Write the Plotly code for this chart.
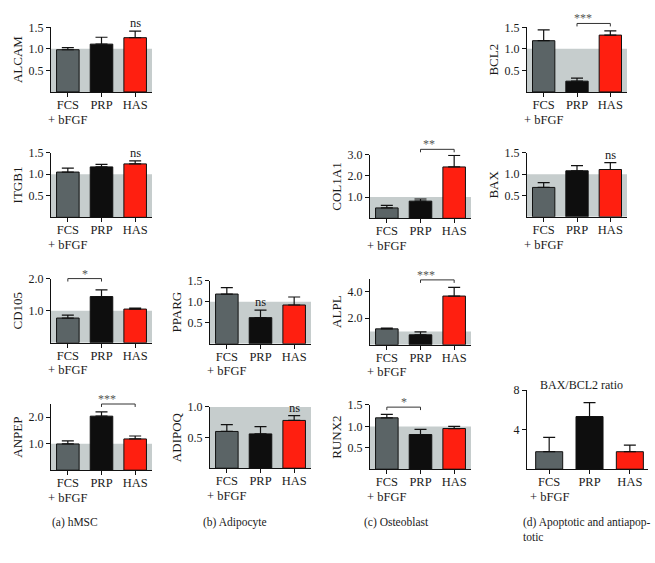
import plotly.graph_objects as go

W, H = 655, 563
groups = ["FCS", "PRP", "HAS"]
bar_colors = ["#5b6466", "#0e0e0e", "#ff1f10"]

# ---- data (bar value, upper error size) ----
alcam = [0.98, 1.11, 1.26];  alcam_err = [0.05, 0.16, 0.15]
itgb1 = [1.05, 1.17, 1.24];  itgb1_err = [0.09, 0.06, 0.07]
cd105 = [0.77, 1.44, 1.05];  cd105_err = [0.09, 0.21, 0.03]
anpep = [0.99, 2.04, 1.18];  anpep_err = [0.12, 0.16, 0.11]
pparg = [1.18, 0.62, 0.92];  pparg_err = [0.15, 0.18, 0.19]
adipoq = [0.60, 0.56, 0.78]; adipoq_err = [0.11, 0.12, 0.08]
col1a1 = [0.49, 0.81, 2.42]; col1a1_err = [0.12, 0.10, 0.55]
alpl = [1.20, 0.75, 3.68];   alpl_err = [0.05, 0.23, 0.65]
runx2 = [1.20, 0.81, 0.95];  runx2_err = [0.08, 0.12, 0.05]
bcl2 = [1.19, 0.25, 1.32];   bcl2_err = [0.25, 0.07, 0.10]
bax = [0.69, 1.08, 1.11];    bax_err = [0.11, 0.12, 0.16]
ratio = [1.77, 5.33, 1.77];  ratio_err = [1.46, 1.40, 0.66]

# ---- panel layout: name, values, errors, ymax, yticks, tickformat, box(px: left,right,top,bottom), shade, xrange
panels = [
    ("ALCAM", alcam, alcam_err, 1.5, [0.5, 1.0, 1.5], ".1f", (51, 152, 20.6, 86), True, [-0.5, 2.5]),
    ("ITGB1", itgb1, itgb1_err, 1.5, [0.5, 1.0, 1.5], ".1f", (51, 152, 147.5, 213), True, [-0.5, 2.5]),
    ("CD105", cd105, cd105_err, 2.0, [1.0, 2.0], ".1f", (51, 152, 275, 340), True, [-0.5, 2.5]),
    ("ANPEP", anpep, anpep_err, 2.5, [1.0, 2.0], ".1f", (51, 152, 402, 469), True, [-0.5, 2.5]),
    ("PPARG", pparg, pparg_err, 1.5, [0.5, 1.0, 1.5], ".1f", (210, 311, 277, 341), True, [-0.5, 2.5]),
    ("ADIPOQ", adipoq, adipoq_err, 1.0, [0.5, 1.0], ".1f", (210, 311, 405, 467), True, [-0.5, 2.5]),
    ("COL1A1", col1a1, col1a1_err, 3.0, [1.0, 2.0, 3.0], ".1f", (370, 471, 149.5, 214), True, [-0.5, 2.5]),
    ("ALPL", alpl, alpl_err, 5.0, [2.0, 4.0], ".1f", (370, 471, 275, 342), True, [-0.5, 2.5]),
    ("RUNX2", runx2, runx2_err, 1.5, [0.5, 1.0, 1.5], ".1f", (370, 471, 403, 468), True, [-0.5, 2.5]),
    ("BCL2", bcl2, bcl2_err, 1.5, [0.5, 1.0, 1.5], ".1f", (527, 627, 20.6, 86), True, [-0.5, 2.5]),
    ("BAX", bax, bax_err, 1.5, [0.5, 1.0, 1.5], ".1f", (527, 627, 147.7, 212.5), True, [-0.5, 2.5]),
    ("", ratio, ratio_err, 8, [4, 8], "d", (527, 648, 388, 468), False, [-0.55, 2.45]),
]

# significance: panel index, bar i, bar j, text, level (data units)
brackets = [
    (2, 0, 1, "*", 2.0),
    (3, 1, 2, "***", 2.5),
    (6, 1, 2, "**", 3.25),
    (7, 1, 2, "***", 4.9),
    (8, 0, 1, "*", 1.45),
    (9, 1, 2, "***", 1.59),
]
ns_marks = [(0, 2), (1, 2), (4, 1), (5, 2), (10, 2)]

FONT = "Liberation Serif"
TXT = "#1a1a1a"


def ax_ids(n):
    s = "" if n == 1 else str(n)
    return "x" + s, "y" + s, "xaxis" + s, "yaxis" + s


fig = go.Figure()
layout = dict(width=W, height=H, margin=dict(l=0, r=0, t=0, b=0),
              paper_bgcolor="white", plot_bgcolor="rgba(0,0,0,0)",
              showlegend=False,
              font=dict(family=FONT, size=12, color=TXT))
shapes, annotations = [], []

for k, (name, vals, errs, ymax, yt, fmt, box, shade, xr) in enumerate(panels):
    xa, ya, xk, yk = ax_ids(k + 1)
    l, r, t, b = box
    fig.add_trace(go.Bar(
        x=[0, 1, 2], y=vals, xaxis=xa, yaxis=ya, width=0.67,
        marker=dict(color=bar_colors, line=dict(color="#111", width=1)),
        error_y=dict(type="data", symmetric=False, array=errs,
                     arrayminus=[0, 0, 0], color="#111", thickness=1.2, width=6),
    ))
    layout[xk] = dict(
        domain=[l / W, r / W], anchor=ya, range=xr,
        tickvals=[0, 1, 2], ticktext=groups, ticks="outside", ticklen=4,
        tickcolor="#111", showline=True, linecolor="#111", linewidth=1,
        showgrid=False, zeroline=False, tickfont=dict(size=12.5),
        ticklabelstandoff=-3, fixedrange=True)
    layout[yk] = dict(
        domain=[1 - b / H, 1 - t / H], anchor=xa, range=[0, ymax],
        tickvals=yt, tickformat=fmt, ticks="outside", ticklen=4,
        tickcolor="#111", showline=True, linecolor="#111", linewidth=1,
        showgrid=False, zeroline=False, tickfont=dict(size=12),
        title=dict(text=name, font=dict(size=13), standoff=3))
    if shade:
        shapes.append(dict(type="rect", xref=f"{xa} domain", yref=ya,
                           x0=0, x1=1, y0=0, y1=1, layer="below",
                           fillcolor="#c6cdcd", line=dict(width=0)))
    annotations.append(dict(text="+ bFGF", xref=xa, x=0, xanchor="center",
                            yref="paper", y=1 - (b + 28) / H, yanchor="middle",
                            showarrow=False, font=dict(size=12.5)))

for (k, i, j, txt, lvl) in brackets:
    xa, ya, _, _ = ax_ids(k + 1)
    ymax = panels[k][3]
    yy = lvl / ymax
    dy = 3.0 / (panels[k][6][3] - panels[k][6][2])
    x0, x1 = (i + 0.5) / 3, (j + 0.5) / 3
    shapes.append(dict(type="path", xref=f"{xa} domain", yref=f"{ya} domain",
                       path=f"M {x0},{yy - dy} L {x0},{yy} L {x1},{yy} L {x1},{yy - dy}",
                       line=dict(color="#333", width=1)))
    annotations.append(dict(text=txt, xref=f"{xa} domain", yref=f"{ya} domain",
                            x=(x0 + x1) / 2, y=yy, yanchor="bottom", yshift=-4,
                            showarrow=False, font=dict(size=12, color="#555")))

for (k, i) in ns_marks:
    xa, ya, _, _ = ax_ids(k + 1)
    vals, errs = panels[k][1], panels[k][2]
    annotations.append(dict(text="ns", xref=xa, yref=ya, x=i,
                            y=vals[i] + errs[i], yanchor="bottom", yshift=-1,
                            showarrow=False, font=dict(size=12.5)))

annotations.append(dict(text="BAX/BCL2 ratio", xref="x12 domain", yref="y12 domain",
                        x=0.45, y=1, yanchor="middle", yshift=5, showarrow=False,
                        font=dict(size=12)))

captions = [("(a) hMSC", 50), ("(b) Adipocyte", 201), ("(c) Osteoblast", 362),
            ("(d) Apoptotic and antiapop-<br>totic", 521)]
for txt, xpx in captions:
    annotations.append(dict(text=txt, xref="paper", yref="paper", x=xpx / W,
                            y=1 - 513 / H, xanchor="left", yanchor="top",
                            align="left", showarrow=False, font=dict(size=11.5)))

layout["shapes"] = shapes
layout["annotations"] = annotations
fig.update_layout(**layout)
fig.write_html(
    "out.html",
    config={"displayModeBar": False},
    post_script="document.body.style.margin='0px';document.body.style.overflow='hidden';",
)
